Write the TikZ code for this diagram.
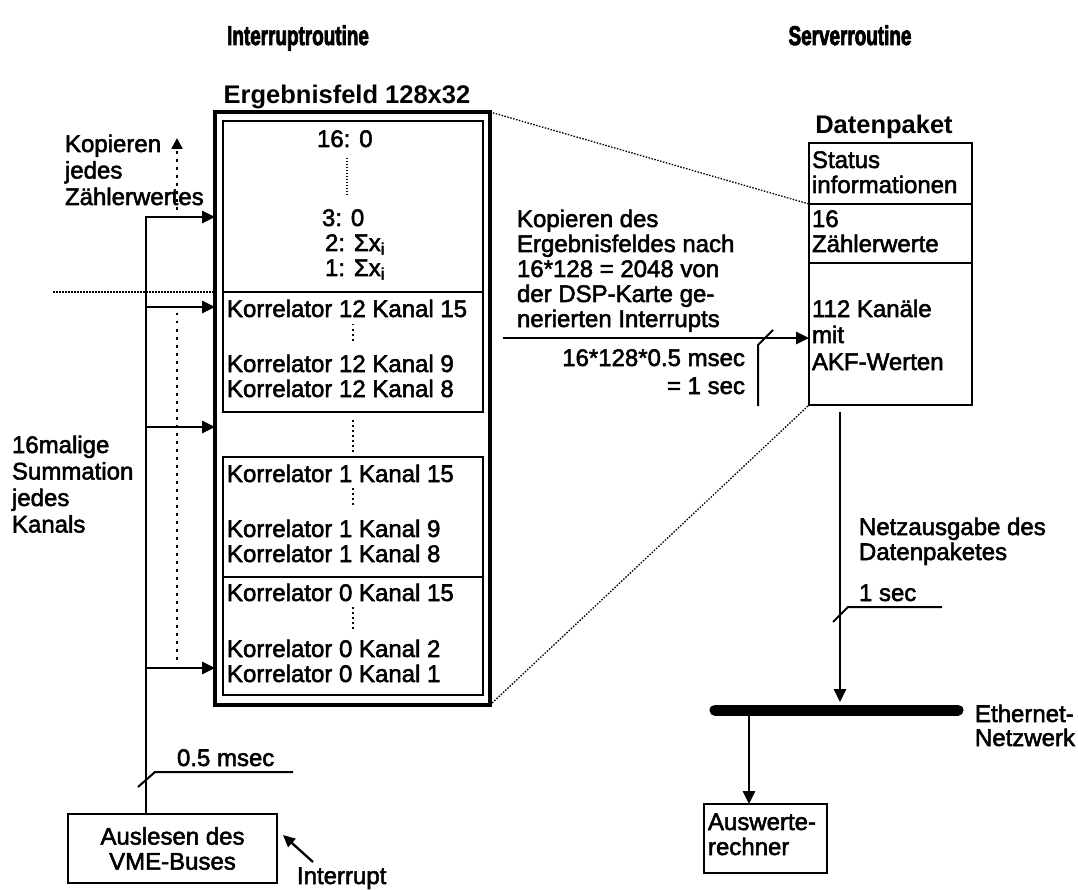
\documentclass[tikz,border=0pt]{standalone}
\usepackage{fontspec}
\setmainfont{Liberation Sans}
\newfontfamily\bodyfont{Liberation Sans}[FakeBold=2.2]
\newfontfamily\titlefont{Liberation Sans Bold}[FakeBold=3.5]
\usetikzlibrary{arrows.meta,calc}
\newcommand{\condtitle}[1]{\scalebox{0.7}[1]{#1}}
\begin{document}
\begin{tikzpicture}[x=1pt,y=-1pt,
  every node/.style={inner sep=0pt,outer sep=0pt},
  lbl/.style={font=\bodyfont\fontsize{24}{26}\selectfont,anchor=base west},
  lblr/.style={font=\bodyfont\fontsize{24}{26}\selectfont,anchor=base east},
  head/.style={font=\bfseries\fontsize{25.5}{30}\selectfont,anchor=base},
  title/.style={font=\titlefont\fontsize{27}{30}\selectfont,anchor=base},
  outerbox/.style={draw,line width=3.4pt,rectangle},
  innerbox/.style={draw,line width=2.3pt,rectangle},
  arr/.style={line width=2.8pt,-{Triangle[length=13pt,width=12pt]}},
  thinarr/.style={line width=2.3pt,-{Triangle[length=12pt,width=11pt]}},
  lead/.style={line width=2pt},
  dotfine/.style={line width=1.3pt,dash pattern=on 1.5pt off 1.5pt},
  dotcoarse/.style={line width=2.4pt,dash pattern=on 2.5pt off 5.5pt},
  dotsmall/.style={line width=1.8pt,dash pattern=on 1.5pt off 3.5pt},
]
\useasboundingbox (0,0) rectangle (1078,890);
\fill[white] (0,0) rectangle (1078,890);

% titles
\node[title] (t-int) at (298,45) {\condtitle{Interruptroutine}};
\node[title] (t-srv) at (850,45) {\condtitle{Serverroutine}};
\node[head] (t-erg) at (347,104) {Ergebnisfeld 128x32};
\node[head] (t-dp)  at (884,134) {Datenpaket};

% result field with its sections
\node[outerbox,minimum width=275pt,minimum height=593pt] (erg) at (352.5,408.5) {};
\node[innerbox,minimum width=260pt,minimum height=171pt] (cnt) at (353,206.5) {};
\node[innerbox,minimum width=260pt,minimum height=120pt] (k12) at (353,352) {};
\node[innerbox,minimum width=260pt,minimum height=120pt] (k1)  at (353,517) {};
\node[innerbox,minimum width=260pt,minimum height=118pt] (k0)  at (353,636) {};

% counter section
\node[lbl] (c16) at (317,147) {16: 0};
\node[lbl] (c3)  at (322,226) {3: 0};
\node[lbl] (c2)  at (325,251) {2: Σx\textsubscript{i}};
\node[lbl] (c1)  at (325,276) {1: Σx\textsubscript{i}};
\draw[dotfine] (347,158) -- (347,197);

% correlator sections
\node[lbl] (r12a) at (227,317) {Korrelator 12 Kanal 15};
\node[lbl] (r12b) at (227,372) {Korrelator 12 Kanal 9};
\node[lbl] (r12c) at (227,397) {Korrelator 12 Kanal 8};
\node[lbl] (r1a)  at (227,482) {Korrelator 1 Kanal 15};
\node[lbl] (r1b)  at (227,537) {Korrelator 1 Kanal 9};
\node[lbl] (r1c)  at (227,562) {Korrelator 1 Kanal 8};
\node[lbl] (r0a)  at (227,601) {Korrelator 0 Kanal 15};
\node[lbl] (r0b)  at (227,657) {Korrelator 0 Kanal 2};
\node[lbl] (r0c)  at (227,682) {Korrelator 0 Kanal 1};
\draw[dotsmall] (353,324) -- (353,343);
\draw[dotsmall] (353,420) -- (353,453);
\draw[dotsmall] (353,488) -- (353,508);
\draw[dotsmall] (353,607) -- (353,629);

% left: bus from the VME read-out into the field
\node[outerbox,line width=2.4pt,minimum width=209pt,minimum height=69pt,
      align=center,font=\bodyfont\fontsize{24}{25}\selectfont] (aus) at (172.5,848.5)
      {Auslesen des\\VME-Buses};
\coordinate (b1) at (146,217);
\coordinate (b2) at (146,307);
\coordinate (b3) at (146,427);
\coordinate (b4) at (146,668);
\draw[arr] (b1 |- aus.north) -- (b1) -- (b1 -| erg.west);
\draw[arr] (b2) -- (b2 -| erg.west);
\draw[arr] (b3) -- (b3 -| erg.west);
\draw[arr] (b4) -- (b4 -| erg.west);

% period marker on the bus
\draw[lead] (138,787) -- (155,772) -- (293,772);
\node[lbl] (p05) at (177,766) {0.5 msec};

% interrupt input
\node[lbl] (intr) at (297,884) {Interrupt};
\coordinate (itail) at (313,862);
\draw[thinarr] (itail) -- ($(aus.east)+(6,-13.5)$);

% separation line and copy/sum notes
\coordinate (sep) at (53,292);
\draw[dotfine] (sep) -- (sep -| erg.west);
\coordinate (kb) at (177,210);
\coordinate (kt) at (177,138);
\draw[dotcoarse,-{Triangle[length=11pt,width=11pt]}] (kb) -- (kt);
\coordinate (sb) at (177,313);
\coordinate (se) at (177,660);
\draw[dotcoarse] (sb) -- (se);
\node[lbl] (kop1) at (65,152) {Kopieren};
\node[lbl] (kop2) at (65,178.5) {jedes};
\node[lbl] (kop3) at (65,205) {Zählerwertes};
\node[lbl] (sum1) at (12,453) {16malige};
\node[lbl] (sum2) at (12,479.5) {Summation};
\node[lbl] (sum3) at (12,506) {jedes};
\node[lbl] (sum4) at (12,532.5) {Kanals};

% data packet
\node[outerbox,line width=2.8pt,minimum width=163pt,minimum height=262pt] (dp) at (890.5,274) {};
\coordinate (dv1) at (0,204);
\coordinate (dv2) at (0,263);
\draw[line width=2.8pt] (dp.west |- dv1) -- (dp.east |- dv1);
\draw[line width=1.6pt] (dp.west |- dv2) -- (dp.east |- dv2);
\node[lbl] (dp1) at (812,168) {Status};
\node[lbl] (dp2) at (812,193) {informationen};
\node[lbl] (dp3) at (812,227) {16};
\node[lbl] (dp4) at (812,252) {Zählerwerte};
\node[lbl] (dp5) at (812,317) {112 Kanäle};
\node[lbl] (dp6) at (812,343) {mit};
\node[lbl] (dp7) at (812,370) {AKF-Werten};

% zoom lines from field to packet
\draw[dotfine] (erg.north east) -- (dp.west |- dv1);
\draw[dotfine] (erg.south east) -- (dp.south west);

% copy transfer
\node[lbl] (cp1) at (517,227) {Kopieren des};
\node[lbl] (cp2) at (517,252) {Ergebnisfeldes nach};
\node[lbl] (cp3) at (517,277) {16*128 = 2048 von};
\node[lbl] (cp4) at (517,302) {der DSP-Karte ge-};
\node[lbl] (cp5) at (517,327) {nerierten Interrupts};
\coordinate (a0) at (503,338);
\draw[arr] (a0) -- (a0 -| dp.west);
\draw[lead] (773,330) -- (758,345) -- (758,406);
\node[lblr] (tm1) at (745,366) {16*128*0.5 msec};
\node[lblr] (tm2) at (745,394) {= 1 sec};

% network output
\node[lbl] (nz1) at (859,535) {Netzausgabe des};
\node[lbl] (nz2) at (859,560) {Datenpaketes};
\node[lbl] (ns)  at (859,601) {1 sec};
\draw[lead] (833,622) -- (848,607) -- (942,607);
\coordinate (ethl) at (715,710);
\coordinate (ethr) at (958,710);
\draw[line width=11pt,line cap=round] (ethl) -- (ethr);
\coordinate (d0) at (dp.south -| 840,0);
\draw[arr] ($(d0)+(0,7)$) -- ($(d0 |- ethl)+(0,-8)$);
\node[lbl] (eth1) at (975,722) {Ethernet-};
\node[lbl] (eth2) at (975,746) {Netzwerk};

% evaluation computer
\node[outerbox,line width=2.4pt,minimum width=123pt,minimum height=69pt] (ausw) at (765.5,838.5) {};
\node[lbl] (aw1) at (708,830) {Auswerte-};
\node[lbl] (aw2) at (708,855) {rechner};
\coordinate (e1) at (749,710);
\draw[arr] (e1) -- (e1 |- ausw.north);
\end{tikzpicture}
\end{document}
